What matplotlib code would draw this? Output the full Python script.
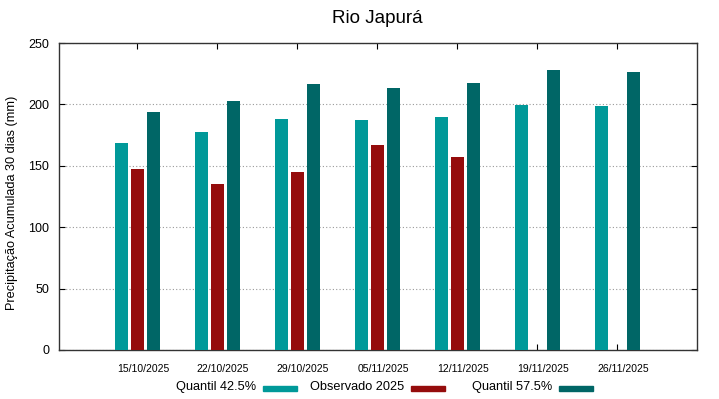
import numpy as np
import matplotlib
matplotlib.use("Agg")
import matplotlib.pyplot as plt
import matplotlib.transforms as mtransforms
from matplotlib.patches import Rectangle

plt.rcParams["font.family"] = ["Liberation Sans", "DejaVu Sans"]

datas = ["15/10/2025", "22/10/2025", "29/10/2025", "05/11/2025",
         "12/11/2025", "19/11/2025", "26/11/2025"]
q425 = [168.3, 177.2, 188.1, 187.0, 190.0, 199.5, 198.7]
obs2025 = [147.1, 135.4, 144.7, 166.9, 156.9, np.nan, np.nan]
q575 = [194.1, 202.5, 216.6, 213.4, 217.4, 227.7, 226.1]

cor_q425 = "#009999"
cor_obs = "#950c0c"
cor_q575 = "#006666"

W, H = 719, 399
fig = plt.figure(figsize=(W / 100, H / 100), dpi=100)
ax = fig.add_axes([59 / W, 1 - 350 / H, 638 / W, 307 / H])

x = np.arange(len(datas))
w = 0.1625
ax.bar(x - 0.2, q425, w, color=cor_q425, zorder=3)
ax.bar(x, obs2025, w, color=cor_obs, zorder=3)
ax.bar(x + 0.2, q575, w, color=cor_q575, zorder=3)

ax.set_xlim(-0.975, 7.0)
ax.set_ylim(0, 250)
ax.set_xticks(x)
ax.set_xticklabels(datas, fontsize=7.5)
ax.set_yticks([0, 50, 100, 150, 200, 250])
ax.tick_params(axis="y", labelsize=9, direction="in", length=4, right=True, pad=7)
ax.tick_params(axis="x", direction="in", length=4, top=True, pad=10)
# rótulos do eixo x deslocados para a direita, como no gnuplot
desloc = mtransforms.ScaledTranslation(6 / 100, 0, fig.dpi_scale_trans)
for lbl in ax.get_xticklabels():
    lbl.set_transform(lbl.get_transform() + desloc)

ax.grid(axis="y", linestyle=(0, (1, 2)), color="#999999", linewidth=0.8, zorder=0)
for s in ax.spines.values():
    s.set_color("#333333")
    s.set_linewidth(1.0)

ax.set_ylabel("Precipitação Acumulada 30 dias (mm)", fontsize=9.2)
ax.yaxis.set_label_coords(-(59 - 18) / 638, (350 - 202.5) / 307)
fig.text(377 / W, 1 - 23 / H, "Rio Japurá", ha="center", va="baseline", fontsize=13.5)

# legenda no estilo gnuplot: texto à esquerda, amostra à direita
labels = ["Quantil 42.5%", "Observado 2025", "Quantil 57.5%"]
cores = [cor_q425, cor_obs, cor_q575]
for i, (lab, cor) in enumerate(zip(labels, cores)):
    x1 = 297 + 148 * i
    x0 = x1 - 34
    fig.text((x0 - 7) / W, 1 - 387 / H, lab, ha="right", va="center", fontsize=9.2)
    fig.add_artist(Rectangle((x0 / W, 1 - 391 / H), 34 / W, 5.5 / H,
                             transform=fig.transFigure, color=cor))

fig.savefig("out.png", dpi=100)
